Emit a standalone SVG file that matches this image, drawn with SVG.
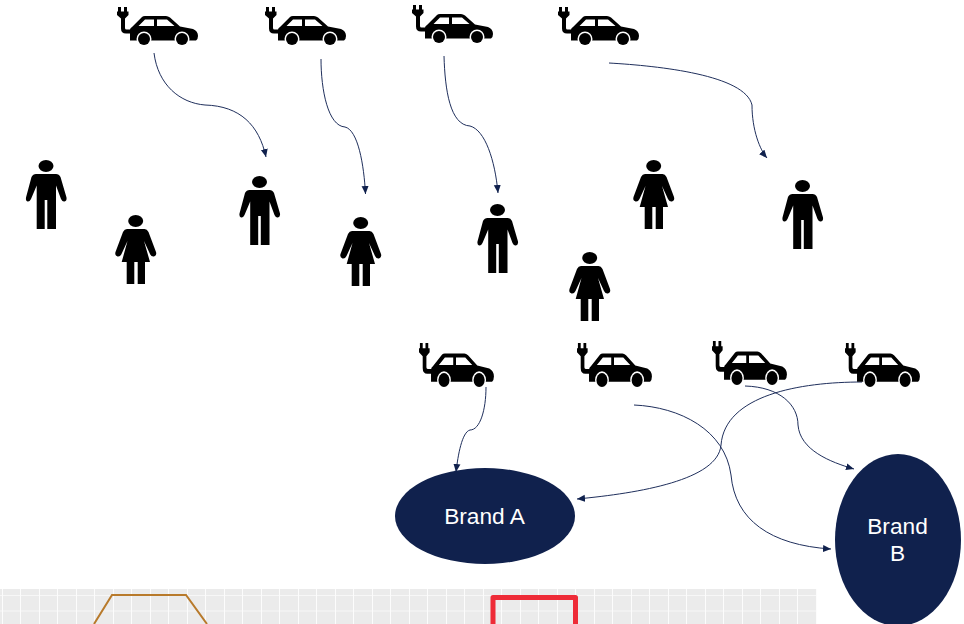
<svg xmlns="http://www.w3.org/2000/svg" width="964" height="624" viewBox="0 0 964 624">
<style>
.c{fill:none;stroke:#1f2f5c;stroke-width:1;marker-end:url(#a)}
.b{fill:#10214d}
.t{fill:#fff;font:22.700px "Liberation Sans",Arial,sans-serif;text-anchor:middle}
</style>
<defs>
<marker id="a" markerUnits="userSpaceOnUse" markerWidth="9" markerHeight="8" refX="8" refY="4" orient="auto"><path d="M0 .5L8 4L0 7.500Z" fill="#10214d"/></marker>
<pattern id="g" x="2" y="595" width="37" height="15.500" patternUnits="userSpaceOnUse"><rect width="37" height="15.500" fill="#ebebeb"/><path d="M0 0V15.500" stroke="#fcfcfc" stroke-width="2"/><path d="M18.500 0V15.500" stroke="#fcfcfc" stroke-width="1"/><path d="M0 0H37" stroke="#fcfcfc" stroke-width="1.500"/></pattern>
<g id="car">
<path d="M1 0h3v4.500h3V0h3v4.500h1.500V8L8 11.500V21q0 1.500 1.500 1.500H14V26.500H9Q4 26.500 4 21.500V11.500L0 8V4.500H1Z"/>
<path d="M13 33.500V23Q13 21 15 20L25 10Q26 9 28 9H49Q51 9 53 10.500L63 19.500L76 22Q81 24 81 29Q81 32 79 33.500Z"/>
<path d="M21.500 19L28 12.500H37V19ZM40 12.500H50L57.500 19H40Z" fill="#fff"/>
<circle cx="27" cy="32" r="7.500" fill="#fff"/><circle cx="65" cy="32" r="7.500" fill="#fff"/>
<circle cx="27" cy="32" r="6"/><circle cx="65" cy="32" r="6"/>
</g>
<g id="man">
<ellipse cx="20" cy="6" rx="7.500" ry="6"/>
<path d="M10 14H30Q33 14 34.500 17L40.500 37.500Q41 41 38.500 41.500Q36.500 42 35 39L30 25.500V69H21.300V40H18.700V69H10.700V25.500L5 39Q3.500 42 1.500 41.500Q-.5 41 0 37.500L5.500 17Q7 14 10 14Z"/>
</g>
<g id="woman">
<ellipse cx="20.700" cy="6" rx="7.500" ry="6"/>
<path d="M12 14H29.500Q32 14 33.500 17L41 37Q42 40.500 39 41.500Q36.500 42 35 39L29 26L35 47H30V69H22.700V47H19.300V69H11.700V47H6.700L12.500 26L6.500 39Q5 42 2.500 41.500Q-.5 40.500.5 37L8 17Q9.500 14 12 14Z"/>
</g>
</defs>
<g id="grid"><rect x="0" y="589" width="817" height="35" fill="url(#g)"/><path d="M94 624L112 595H186L207 624" fill="none" stroke="#b87a2b" stroke-width="2"/><path d="M493 624V597.500H575.500V624" fill="none" stroke="#ee2b37" stroke-width="5" stroke-linejoin="round"/></g>
<g id="connectors">
<path class="c" d="M154 53C158 85 180 103 205 105C240 106 259 125 266 157"/>
<path class="c" d="M321 59C321 90 328 126 345 127C358 130 364 165 365.500 194"/>
<path class="c" d="M444 56C445 90 450 125 470 126C485 130 495 160 498 193"/>
<path class="c" d="M609 63C660 66 745 75 752 105C752 130 760 150 767 158"/>
<path class="c" d="M486 387C486 410 480 430 470 430C462 432 458 455 456 472"/>
<path class="c" d="M634 405C680 407 725 430 731 475C735 520 770 545 831 549"/>
<path class="c" d="M745 386C780 387 798 405 798 425C800 450 830 462 854 469"/>
<path class="c" d="M862 382C800 382 725 395 721 445C718 480 640 493 577 499"/>
</g>
<use id="car1" href="#car" transform="translate(117 7)"/>
<use id="car2" href="#car" transform="translate(265 7)"/>
<use id="car3" href="#car" transform="translate(412 5)"/>
<use id="car4" href="#car" transform="translate(558 7)"/>
<use id="car5" href="#car" transform="translate(419 343) scale(.925 1.158)"/>
<use id="car6" href="#car" transform="translate(577 343) scale(.925 1.158)"/>
<use id="car7" href="#car" transform="translate(712 341) scale(.925 1.158)"/>
<use id="car8" href="#car" transform="translate(845 343) scale(.925 1.158)"/>
<use id="p1" href="#man" transform="translate(26 160)"/>
<use id="p2" href="#woman" transform="translate(115 215)"/>
<use id="p3" href="#man" transform="translate(239.500 176)"/>
<use id="p4" href="#woman" transform="translate(340 217)"/>
<use id="p5" href="#man" transform="translate(477.500 204)"/>
<use id="p6" href="#woman" transform="translate(633 160)"/>
<use id="p7" href="#man" transform="translate(782.500 180)"/>
<use id="p8" href="#woman" transform="translate(569 252)"/>
<g id="brandA"><ellipse class="b" cx="485" cy="516" rx="90" ry="48"/><text class="t" x="484.500" y="524">Brand A</text></g>
<g id="brandB"><ellipse class="b" cx="898" cy="540" rx="63" ry="86"/><text class="t" x="897.500" y="534">Brand</text><text class="t" x="897.500" y="561">B</text></g>
</svg>
